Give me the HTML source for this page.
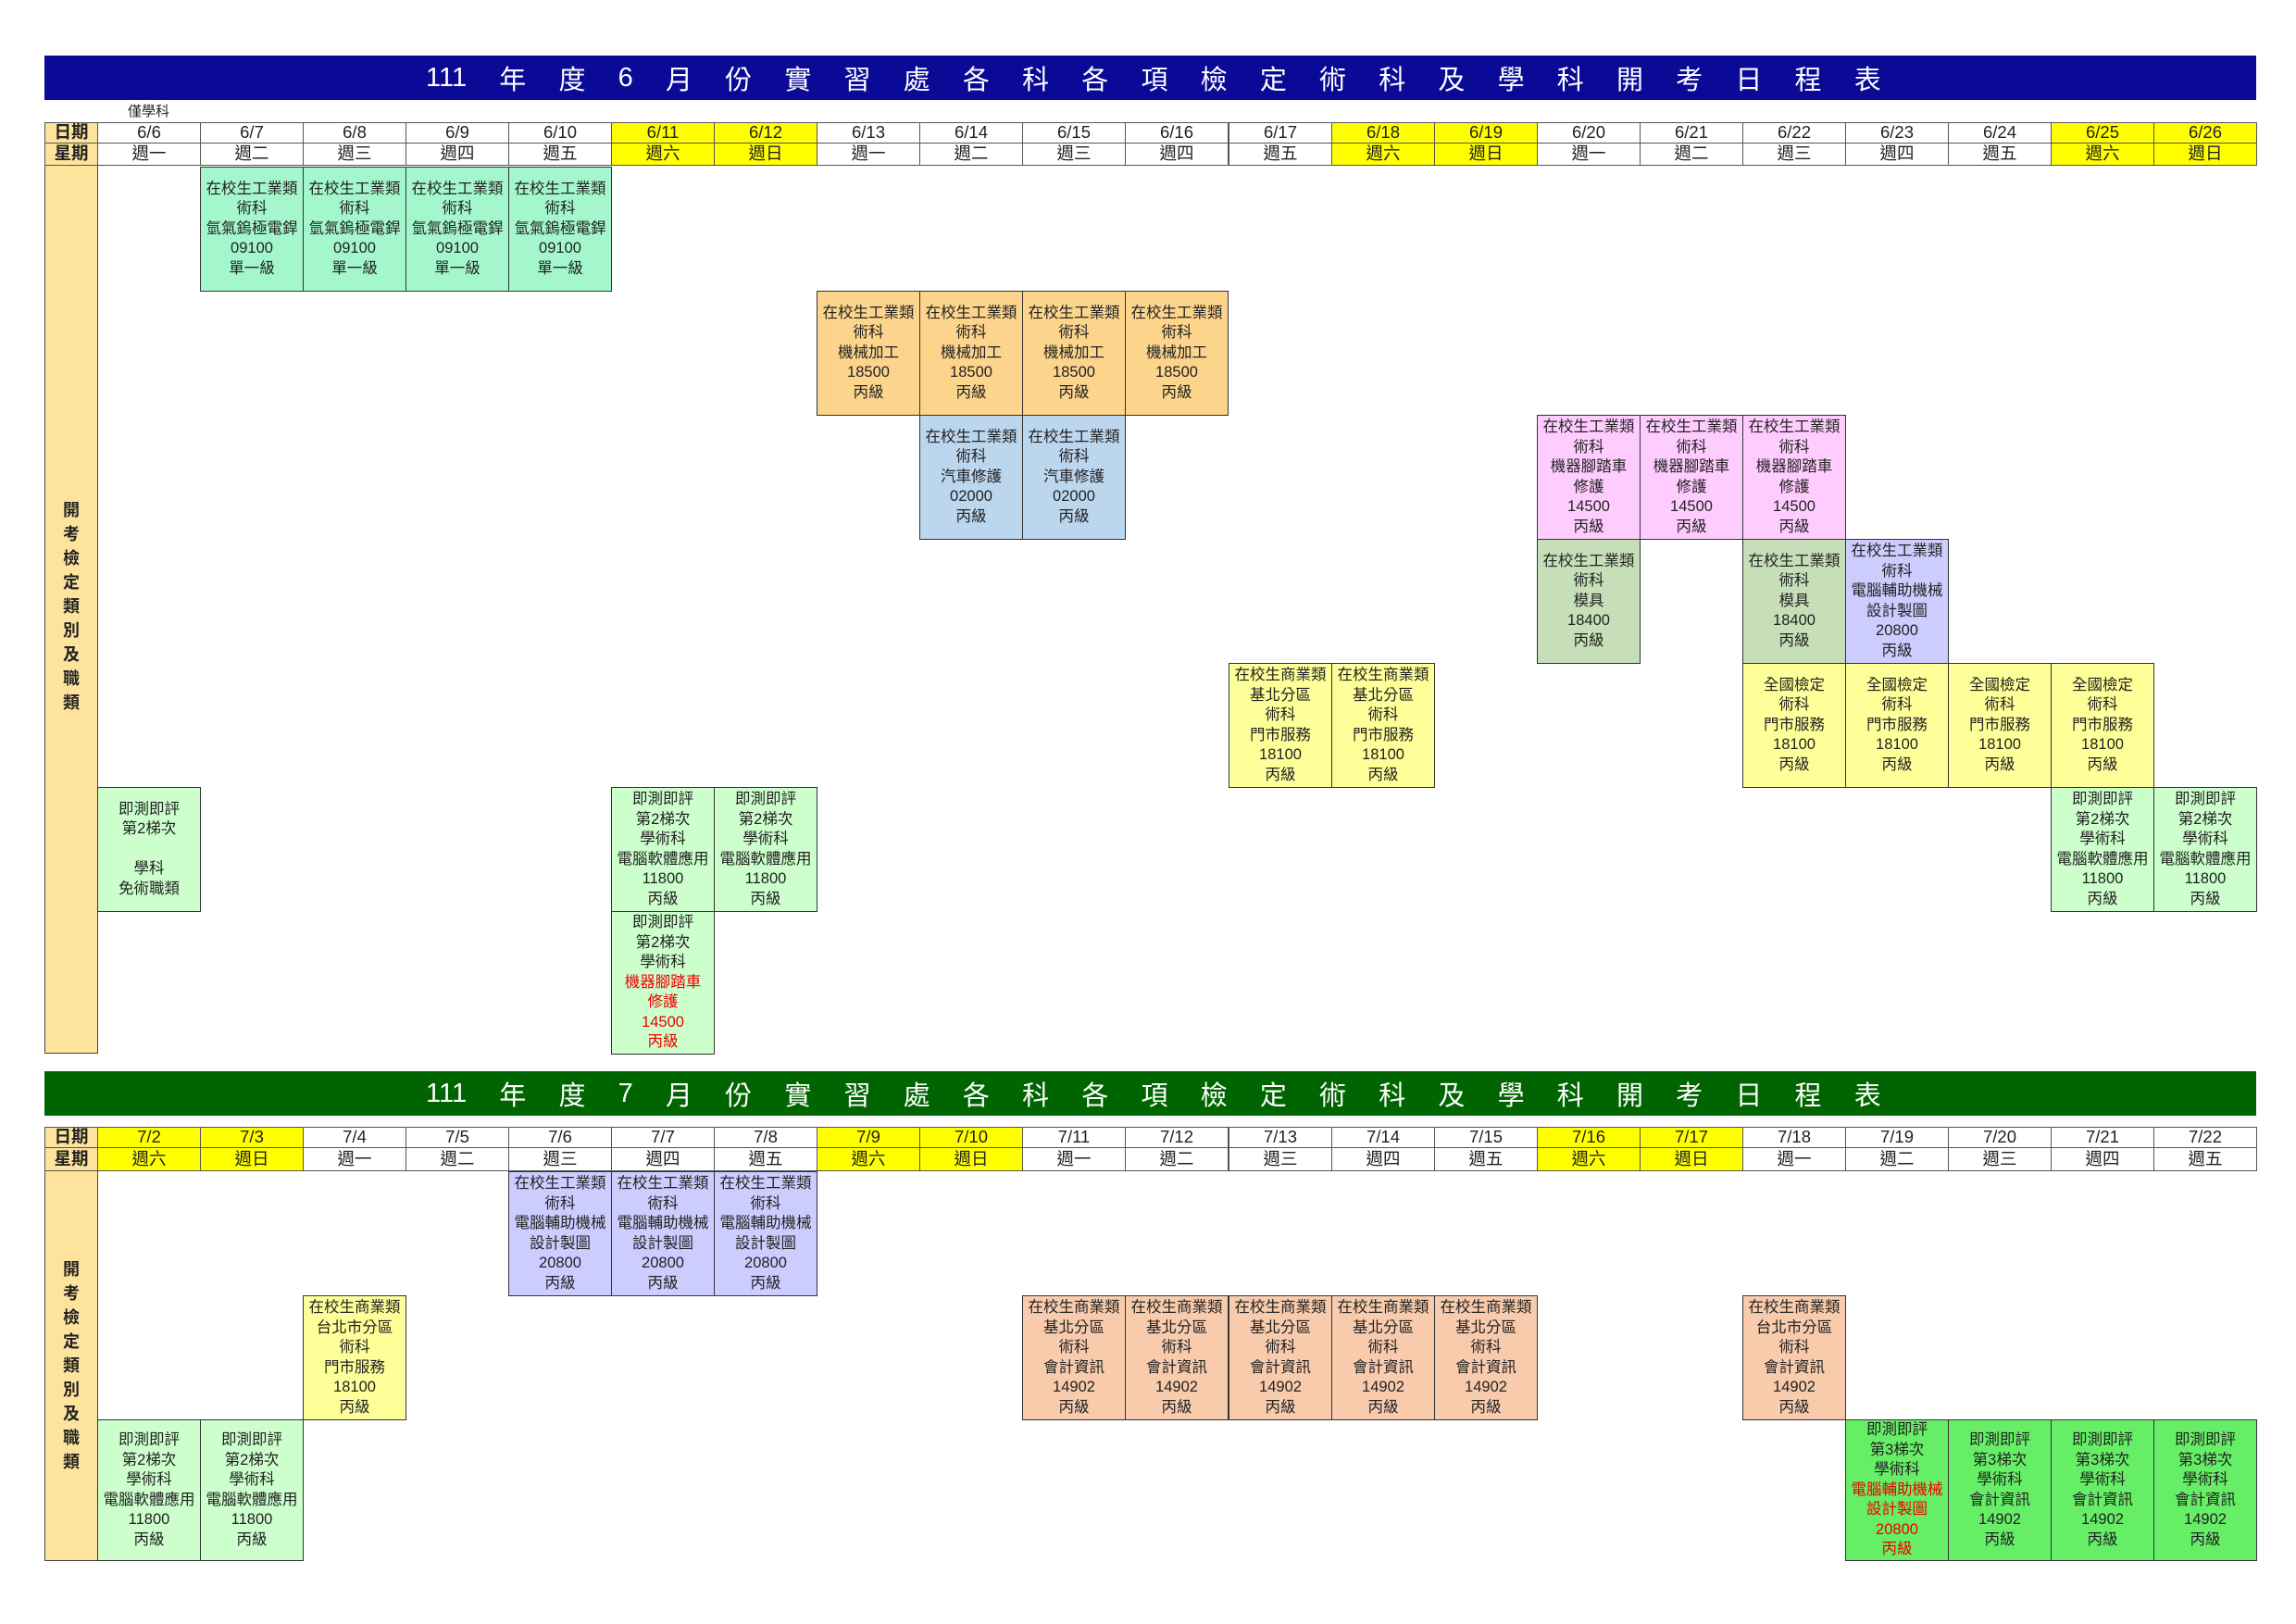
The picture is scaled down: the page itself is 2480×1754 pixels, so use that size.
<!DOCTYPE html>
<html><head><meta charset="utf-8">
<style>
*{margin:0;padding:0;box-sizing:border-box}
body{width:2480px;height:1754px;background:#fff;position:relative;overflow:hidden;font-family:"Liberation Sans","Noto Sans CJK TC",sans-serif;color:#222}
.t{position:absolute;left:48px;width:2389px;height:48px;}
.tt{position:absolute;left:412px;width:1572px;top:0;height:48px;display:flex;justify-content:space-between;align-items:center;color:#fff;font-size:29px;font-weight:normal}
.h{position:absolute;height:23px;border:1px solid #555;display:flex;align-items:center;justify-content:center;font-size:18.5px;line-height:1}
.y{background:#ffff00}
.lab{position:absolute;left:48px;width:58px;background:#fde39c;border:1.5px solid #444;}
.lt{position:absolute;left:48px;width:58px;display:flex;flex-direction:column;align-items:center;font-size:18px;font-weight:bold;line-height:26px}
.b{position:absolute;width:112px;height:135px;border:1.5px solid #333;display:flex;flex-direction:column;justify-content:center;align-items:center;font-size:16.5px;line-height:21.5px;white-space:nowrap;text-align:center}
.r{color:#e00}
.mint{background:#a4f7cc}.or{background:#fcd48c}.bl{background:#bcd6ee}.pk{background:#ffccff}.ol{background:#c6dfb8}.lv{background:#ccccff}.yl{background:#ffff99}.lg{background:#ccffcc}.pe{background:#f8cbad}.bg{background:#66ee66}
</style></head><body>

<div class="t" style="top:60px;background:#0a0a96"><div class="tt"><span>111</span><span>年</span><span>度</span><span>6</span><span>月</span><span>份</span><span>實</span><span>習</span><span>處</span><span>各</span><span>科</span><span>各</span><span>項</span><span>檢</span><span>定</span><span>術</span><span>科</span><span>及</span><span>學</span><span>科</span><span>開</span><span>考</span><span>日</span><span>程</span><span>表</span></div></div>
<div style="position:absolute;left:138px;top:109px;font-size:15px">僅學科</div>

<div class="lab" style="top:132px;height:1006px"></div>
<div class="h" style="left:48px;top:132px;width:58px;background:#fde39c;font-weight:bold">日期</div>
<div class="h" style="left:48px;top:154px;width:58px;height:25px;background:#fde39c;font-weight:bold">星期</div>
<div class="lt" style="top:538px">開<br>考<br>檢<br>定<br>類<br>別<br>及<br>職<br>類</div>

<div class="h" style="left:105px;top:132px;width:112px">6/6</div>
<div class="h" style="left:216px;top:132px;width:112px">6/7</div>
<div class="h" style="left:327px;top:132px;width:112px">6/8</div>
<div class="h" style="left:438px;top:132px;width:112px">6/9</div>
<div class="h" style="left:549px;top:132px;width:112px">6/10</div>
<div class="h y" style="left:660px;top:132px;width:112px">6/11</div>
<div class="h y" style="left:771px;top:132px;width:112px">6/12</div>
<div class="h" style="left:882px;top:132px;width:112px">6/13</div>
<div class="h" style="left:993px;top:132px;width:112px">6/14</div>
<div class="h" style="left:1104px;top:132px;width:112px">6/15</div>
<div class="h" style="left:1215px;top:132px;width:112px">6/16</div>
<div class="h" style="left:1327px;top:132px;width:112px">6/17</div>
<div class="h y" style="left:1438px;top:132px;width:112px">6/18</div>
<div class="h y" style="left:1549px;top:132px;width:112px">6/19</div>
<div class="h" style="left:1660px;top:132px;width:112px">6/20</div>
<div class="h" style="left:1771px;top:132px;width:112px">6/21</div>
<div class="h" style="left:1882px;top:132px;width:112px">6/22</div>
<div class="h" style="left:1993px;top:132px;width:112px">6/23</div>
<div class="h" style="left:2104px;top:132px;width:112px">6/24</div>
<div class="h y" style="left:2215px;top:132px;width:112px">6/25</div>
<div class="h y" style="left:2326px;top:132px;width:112px">6/26</div>

<div class="h" style="left:105px;top:154px;height:25px;width:112px">週一</div>
<div class="h" style="left:216px;top:154px;height:25px;width:112px">週二</div>
<div class="h" style="left:327px;top:154px;height:25px;width:112px">週三</div>
<div class="h" style="left:438px;top:154px;height:25px;width:112px">週四</div>
<div class="h" style="left:549px;top:154px;height:25px;width:112px">週五</div>
<div class="h y" style="left:660px;top:154px;height:25px;width:112px">週六</div>
<div class="h y" style="left:771px;top:154px;height:25px;width:112px">週日</div>
<div class="h" style="left:882px;top:154px;height:25px;width:112px">週一</div>
<div class="h" style="left:993px;top:154px;height:25px;width:112px">週二</div>
<div class="h" style="left:1104px;top:154px;height:25px;width:112px">週三</div>
<div class="h" style="left:1215px;top:154px;height:25px;width:112px">週四</div>
<div class="h" style="left:1327px;top:154px;height:25px;width:112px">週五</div>
<div class="h y" style="left:1438px;top:154px;height:25px;width:112px">週六</div>
<div class="h y" style="left:1549px;top:154px;height:25px;width:112px">週日</div>
<div class="h" style="left:1660px;top:154px;height:25px;width:112px">週一</div>
<div class="h" style="left:1771px;top:154px;height:25px;width:112px">週二</div>
<div class="h" style="left:1882px;top:154px;height:25px;width:112px">週三</div>
<div class="h" style="left:1993px;top:154px;height:25px;width:112px">週四</div>
<div class="h" style="left:2104px;top:154px;height:25px;width:112px">週五</div>
<div class="h y" style="left:2215px;top:154px;height:25px;width:112px">週六</div>
<div class="h y" style="left:2326px;top:154px;height:25px;width:112px">週日</div>

<div class="b mint" style="left:216px;top:180px">在校生工業類<br>術科<br>氫氣鎢極電銲<br>09100<br>單一級</div>
<div class="b mint" style="left:327px;top:180px">在校生工業類<br>術科<br>氫氣鎢極電銲<br>09100<br>單一級</div>
<div class="b mint" style="left:438px;top:180px">在校生工業類<br>術科<br>氫氣鎢極電銲<br>09100<br>單一級</div>
<div class="b mint" style="left:549px;top:180px">在校生工業類<br>術科<br>氫氣鎢極電銲<br>09100<br>單一級</div>

<div class="b or" style="left:882px;top:314px">在校生工業類<br>術科<br>機械加工<br>18500<br>丙級</div>
<div class="b or" style="left:993px;top:314px">在校生工業類<br>術科<br>機械加工<br>18500<br>丙級</div>
<div class="b or" style="left:1104px;top:314px">在校生工業類<br>術科<br>機械加工<br>18500<br>丙級</div>
<div class="b or" style="left:1215px;top:314px">在校生工業類<br>術科<br>機械加工<br>18500<br>丙級</div>

<div class="b bl" style="left:993px;top:448px">在校生工業類<br>術科<br>汽車修護<br>02000<br>丙級</div>
<div class="b bl" style="left:1104px;top:448px">在校生工業類<br>術科<br>汽車修護<br>02000<br>丙級</div>
<div class="b pk" style="left:1660px;top:448px">在校生工業類<br>術科<br>機器腳踏車<br>修護<br>14500<br>丙級</div>
<div class="b pk" style="left:1771px;top:448px">在校生工業類<br>術科<br>機器腳踏車<br>修護<br>14500<br>丙級</div>
<div class="b pk" style="left:1882px;top:448px">在校生工業類<br>術科<br>機器腳踏車<br>修護<br>14500<br>丙級</div>

<div class="b ol" style="left:1660px;top:582px">在校生工業類<br>術科<br>模具<br>18400<br>丙級</div>
<div class="b ol" style="left:1882px;top:582px">在校生工業類<br>術科<br>模具<br>18400<br>丙級</div>
<div class="b lv" style="left:1993px;top:582px">在校生工業類<br>術科<br>電腦輔助機械<br>設計製圖<br>20800<br>丙級</div>

<div class="b yl" style="left:1327px;top:716px">在校生商業類<br>基北分區<br>術科<br>門市服務<br>18100<br>丙級</div>
<div class="b yl" style="left:1438px;top:716px">在校生商業類<br>基北分區<br>術科<br>門市服務<br>18100<br>丙級</div>
<div class="b yl" style="left:1882px;top:716px">全國檢定<br>術科<br>門市服務<br>18100<br>丙級</div>
<div class="b yl" style="left:1993px;top:716px">全國檢定<br>術科<br>門市服務<br>18100<br>丙級</div>
<div class="b yl" style="left:2104px;top:716px">全國檢定<br>術科<br>門市服務<br>18100<br>丙級</div>
<div class="b yl" style="left:2215px;top:716px">全國檢定<br>術科<br>門市服務<br>18100<br>丙級</div>

<div class="b lg" style="left:105px;top:850px">即測即評<br>第2梯次<br>&nbsp;<br>學科<br>免術職類</div>
<div class="b lg" style="left:660px;top:850px">即測即評<br>第2梯次<br>學術科<br>電腦軟體應用<br>11800<br>丙級</div>
<div class="b lg" style="left:771px;top:850px">即測即評<br>第2梯次<br>學術科<br>電腦軟體應用<br>11800<br>丙級</div>
<div class="b lg" style="left:2215px;top:850px">即測即評<br>第2梯次<br>學術科<br>電腦軟體應用<br>11800<br>丙級</div>
<div class="b lg" style="left:2326px;top:850px">即測即評<br>第2梯次<br>學術科<br>電腦軟體應用<br>11800<br>丙級</div>
<div class="b lg" style="left:660px;top:984px;height:155px">即測即評<br>第2梯次<br>學術科<br><span class="r">機器腳踏車</span><span class="r">修護</span><span class="r">14500</span><span class="r">丙級</span></div>

<div class="t" style="top:1157px;background:#006400"><div class="tt"><span>111</span><span>年</span><span>度</span><span>7</span><span>月</span><span>份</span><span>實</span><span>習</span><span>處</span><span>各</span><span>科</span><span>各</span><span>項</span><span>檢</span><span>定</span><span>術</span><span>科</span><span>及</span><span>學</span><span>科</span><span>開</span><span>考</span><span>日</span><span>程</span><span>表</span></div></div>

<div class="lab" style="top:1217px;height:469px"></div>
<div class="h" style="left:48px;top:1217px;width:58px;background:#fde39c;font-weight:bold">日期</div>
<div class="h" style="left:48px;top:1239px;width:58px;height:26px;background:#fde39c;font-weight:bold">星期</div>
<div class="lt" style="top:1358px">開<br>考<br>檢<br>定<br>類<br>別<br>及<br>職<br>類</div>

<div class="h y" style="left:105px;top:1217px;width:112px">7/2</div>
<div class="h y" style="left:216px;top:1217px;width:112px">7/3</div>
<div class="h" style="left:327px;top:1217px;width:112px">7/4</div>
<div class="h" style="left:438px;top:1217px;width:112px">7/5</div>
<div class="h" style="left:549px;top:1217px;width:112px">7/6</div>
<div class="h" style="left:660px;top:1217px;width:112px">7/7</div>
<div class="h" style="left:771px;top:1217px;width:112px">7/8</div>
<div class="h y" style="left:882px;top:1217px;width:112px">7/9</div>
<div class="h y" style="left:993px;top:1217px;width:112px">7/10</div>
<div class="h" style="left:1104px;top:1217px;width:112px">7/11</div>
<div class="h" style="left:1215px;top:1217px;width:112px">7/12</div>
<div class="h" style="left:1327px;top:1217px;width:112px">7/13</div>
<div class="h" style="left:1438px;top:1217px;width:112px">7/14</div>
<div class="h" style="left:1549px;top:1217px;width:112px">7/15</div>
<div class="h y" style="left:1660px;top:1217px;width:112px">7/16</div>
<div class="h y" style="left:1771px;top:1217px;width:112px">7/17</div>
<div class="h" style="left:1882px;top:1217px;width:112px">7/18</div>
<div class="h" style="left:1993px;top:1217px;width:112px">7/19</div>
<div class="h" style="left:2104px;top:1217px;width:112px">7/20</div>
<div class="h" style="left:2215px;top:1217px;width:112px">7/21</div>
<div class="h" style="left:2326px;top:1217px;width:112px">7/22</div>

<div class="h y" style="left:105px;top:1239px;height:26px;width:112px">週六</div>
<div class="h y" style="left:216px;top:1239px;height:26px;width:112px">週日</div>
<div class="h" style="left:327px;top:1239px;height:26px;width:112px">週一</div>
<div class="h" style="left:438px;top:1239px;height:26px;width:112px">週二</div>
<div class="h" style="left:549px;top:1239px;height:26px;width:112px">週三</div>
<div class="h" style="left:660px;top:1239px;height:26px;width:112px">週四</div>
<div class="h" style="left:771px;top:1239px;height:26px;width:112px">週五</div>
<div class="h y" style="left:882px;top:1239px;height:26px;width:112px">週六</div>
<div class="h y" style="left:993px;top:1239px;height:26px;width:112px">週日</div>
<div class="h" style="left:1104px;top:1239px;height:26px;width:112px">週一</div>
<div class="h" style="left:1215px;top:1239px;height:26px;width:112px">週二</div>
<div class="h" style="left:1327px;top:1239px;height:26px;width:112px">週三</div>
<div class="h" style="left:1438px;top:1239px;height:26px;width:112px">週四</div>
<div class="h" style="left:1549px;top:1239px;height:26px;width:112px">週五</div>
<div class="h y" style="left:1660px;top:1239px;height:26px;width:112px">週六</div>
<div class="h y" style="left:1771px;top:1239px;height:26px;width:112px">週日</div>
<div class="h" style="left:1882px;top:1239px;height:26px;width:112px">週一</div>
<div class="h" style="left:1993px;top:1239px;height:26px;width:112px">週二</div>
<div class="h" style="left:2104px;top:1239px;height:26px;width:112px">週三</div>
<div class="h" style="left:2215px;top:1239px;height:26px;width:112px">週四</div>
<div class="h" style="left:2326px;top:1239px;height:26px;width:112px">週五</div>

<div class="b lv" style="left:549px;top:1265px">在校生工業類<br>術科<br>電腦輔助機械<br>設計製圖<br>20800<br>丙級</div>
<div class="b lv" style="left:660px;top:1265px">在校生工業類<br>術科<br>電腦輔助機械<br>設計製圖<br>20800<br>丙級</div>
<div class="b lv" style="left:771px;top:1265px">在校生工業類<br>術科<br>電腦輔助機械<br>設計製圖<br>20800<br>丙級</div>

<div class="b yl" style="left:327px;top:1399px">在校生商業類<br>台北市分區<br>術科<br>門市服務<br>18100<br>丙級</div>
<div class="b pe" style="left:1104px;top:1399px">在校生商業類<br>基北分區<br>術科<br>會計資訊<br>14902<br>丙級</div>
<div class="b pe" style="left:1215px;top:1399px">在校生商業類<br>基北分區<br>術科<br>會計資訊<br>14902<br>丙級</div>
<div class="b pe" style="left:1327px;top:1399px">在校生商業類<br>基北分區<br>術科<br>會計資訊<br>14902<br>丙級</div>
<div class="b pe" style="left:1438px;top:1399px">在校生商業類<br>基北分區<br>術科<br>會計資訊<br>14902<br>丙級</div>
<div class="b pe" style="left:1549px;top:1399px">在校生商業類<br>基北分區<br>術科<br>會計資訊<br>14902<br>丙級</div>
<div class="b pe" style="left:1882px;top:1399px">在校生商業類<br>台北市分區<br>術科<br>會計資訊<br>14902<br>丙級</div>

<div class="b lg" style="left:105px;top:1533px;height:153px">即測即評<br>第2梯次<br>學術科<br>電腦軟體應用<br>11800<br>丙級</div>
<div class="b lg" style="left:216px;top:1533px;height:153px">即測即評<br>第2梯次<br>學術科<br>電腦軟體應用<br>11800<br>丙級</div>
<div class="b bg" style="left:1993px;top:1533px;height:153px">即測即評<br>第3梯次<br>學術科<br><span class="r">電腦輔助機械</span><span class="r">設計製圖</span><span class="r">20800</span><span class="r">丙級</span></div>
<div class="b bg" style="left:2104px;top:1533px;height:153px">即測即評<br>第3梯次<br>學術科<br>會計資訊<br>14902<br>丙級</div>
<div class="b bg" style="left:2215px;top:1533px;height:153px">即測即評<br>第3梯次<br>學術科<br>會計資訊<br>14902<br>丙級</div>
<div class="b bg" style="left:2326px;top:1533px;height:153px">即測即評<br>第3梯次<br>學術科<br>會計資訊<br>14902<br>丙級</div>

</body></html>
